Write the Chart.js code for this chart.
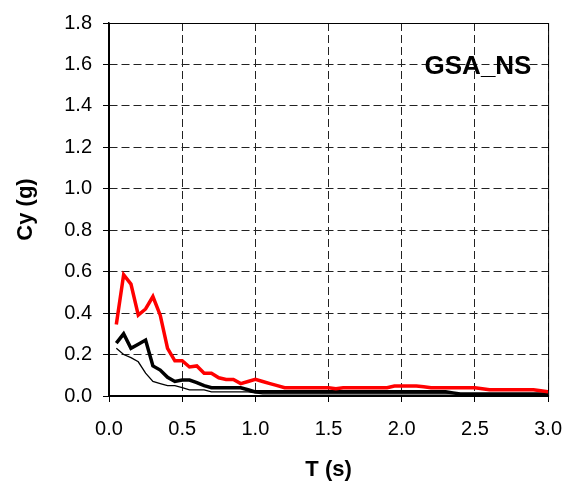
<!DOCTYPE html>
<html>
<head>
<meta charset="utf-8">
<script src="https://cdn.jsdelivr.net/npm/chart.js@4"></script>
<style>
  html, body { margin: 0; padding: 0; background: #fff; }
  #wrap { width: 577px; height: 483px; }
</style>
</head>
<body>
<div id="wrap"><canvas id="grafico" width="577" height="483"></canvas></div>
<script>
// periodos T (s)
const periodos = [
  0.05, 0.10, 0.15, 0.20, 0.25, 0.30, 0.35, 0.40, 0.45, 0.50,
  0.55, 0.60, 0.65, 0.70, 0.75, 0.80, 0.85, 0.90, 0.95, 1.00,
  1.05, 1.10, 1.15, 1.20, 1.25, 1.30, 1.35, 1.40, 1.45, 1.50,
  1.55, 1.60, 1.65, 1.70, 1.75, 1.80, 1.85, 1.90, 1.95, 2.00,
  2.05, 2.10, 2.15, 2.20, 2.25, 2.30, 2.35, 2.40, 2.45, 2.50,
  2.55, 2.60, 2.65, 2.70, 2.75, 2.80, 2.85, 2.90, 2.95, 3.00
];

// Cy (g) - curva roja
const cyRojo = [
  0.345, 0.585, 0.54, 0.39, 0.42, 0.48, 0.39, 0.23, 0.17, 0.17,
  0.14, 0.145, 0.11, 0.11, 0.088, 0.08, 0.08, 0.06, 0.07, 0.08,
  0.07, 0.06, 0.05, 0.04, 0.04, 0.04, 0.04, 0.04, 0.04, 0.04,
  0.035, 0.04, 0.04, 0.04, 0.04, 0.04, 0.04, 0.04, 0.048, 0.048,
  0.048, 0.048, 0.045, 0.04, 0.04, 0.04, 0.04, 0.04, 0.04, 0.04,
  0.035, 0.03, 0.03, 0.03, 0.03, 0.03, 0.03, 0.03, 0.025, 0.02
];

// Cy (g) - curva negra gruesa
const cyNegroGrueso = [
  0.255, 0.30, 0.23, 0.25, 0.27, 0.145, 0.125, 0.09, 0.07, 0.077,
  0.077, 0.065, 0.05, 0.04, 0.04, 0.04, 0.04, 0.04, 0.03, 0.02,
  0.02, 0.02, 0.02, 0.02, 0.02, 0.02, 0.02, 0.02, 0.02, 0.02,
  0.02, 0.02, 0.02, 0.02, 0.02, 0.02, 0.02, 0.02, 0.02, 0.02,
  0.02, 0.02, 0.02, 0.02, 0.02, 0.02, 0.015, 0.01, 0.01, 0.01,
  0.01, 0.01, 0.01, 0.01, 0.01, 0.01, 0.01, 0.01, 0.01, 0.01
];

// Cy (g) - curva negra delgada
const cyNegroDelgado = [
  0.23, 0.20, 0.185, 0.165, 0.11, 0.07, 0.06, 0.05, 0.05, 0.04,
  0.03, 0.03, 0.03, 0.02, 0.02, 0.02, 0.02, 0.02, 0.02, 0.015,
  0.01, 0.01, 0.01, 0.01, 0.01, 0.01, 0.01, 0.01, 0.01, 0.01,
  0.01, 0.01, 0.01, 0.01, 0.01, 0.01, 0.01, 0.01, 0.01, 0.01,
  0.01, 0.01, 0.01, 0.01, 0.01, 0.01, 0.01, 0.01, 0.01, 0.01,
  0.01, 0.01, 0.01, 0.01, 0.01, 0.01, 0.01, 0.01, 0.01, 0.01
];

const ticksX = [0, 0.5, 1.0, 1.5, 2.0, 2.5, 3.0];
const etiquetasX = ["0.0", "0.5", "1.0", "1.5", "2.0", "2.5", "3.0"];
const ticksY = [0, 0.2, 0.4, 0.6, 0.8, 1.0, 1.2, 1.4, 1.6, 1.8];
const etiquetasY = ["0.0", "0.2", "0.4", "0.6", "0.8", "1.0", "1.2", "1.4", "1.6", "1.8"];

const tituloGrafico = "GSA_NS";
const fuente = "'Liberation Sans', Arial, sans-serif";

function puntos(valores){
    return periodos.map(function(t, i){
        return { x: t, y: valores[i] };
    });
}

const marcoYTitulo = {
    id: "marcoYTitulo",
    afterDraw: function(chart){
        const ctx = chart.ctx;
        const area = chart.chartArea;
        ctx.save();
        ctx.strokeStyle = "#000";
        ctx.lineWidth = 1;
        ctx.strokeRect(area.left + 0.5, area.top + 0.5, area.right - area.left, area.bottom - area.top);
        ctx.fillStyle = "#000";
        ctx.font = "bold 26px " + fuente;
        ctx.textAlign = "center";
        ctx.textBaseline = "middle";
        ctx.fillText(tituloGrafico, 478, 67);
        ctx.restore();
    }
};

new Chart(document.getElementById("grafico"), {
    type: "line",
    data: {
        datasets: [
            {
                data: puntos(cyRojo),
                borderColor: "#ff0000",
                borderWidth: 3.5,
                pointRadius: 0,
                tension: 0
            },
            {
                data: puntos(cyNegroGrueso),
                borderColor: "#000000",
                borderWidth: 3.5,
                pointRadius: 0,
                tension: 0
            },
            {
                data: puntos(cyNegroDelgado),
                borderColor: "#000000",
                borderWidth: 1.3,
                pointRadius: 0,
                tension: 0
            }
        ]
    },
    options: {
        responsive: false,
        animation: false,
        layout: {
            padding: { top: 18, right: 25, bottom: 0, left: 0 }
        },
        plugins: {
            legend: { display: false },
            tooltip: { enabled: false }
        },
        scales: {
            x: {
                type: "linear",
                min: 0,
                max: 3,
                afterBuildTicks: function(scale){
                    scale.ticks = ticksX.map(function(v){ return { value: v }; });
                },
                afterFit: function(scale){
                    scale.height = 87;
                },
                ticks: {
                    color: "#000",
                    padding: 15,
                    maxRotation: 0,
                    font: { family: fuente, size: 20 },
                    callback: function(value, index){
                        return etiquetasX[index];
                    }
                },
                grid: {
                    color: "#222",
                    lineWidth: 1,
                    tickLength: 6,
                    tickColor: "#000"
                },
                border: {
                    display: true,
                    color: "#000",
                    width: 1.5,
                    dash: [8, 4]
                },
                title: {
                    display: true,
                    text: "T (s)",
                    color: "#000",
                    padding: { top: 0, bottom: 0 },
                    font: { family: fuente, size: 22, weight: "bold" }
                }
            },
            y: {
                min: 0,
                max: 1.8,
                afterBuildTicks: function(scale){
                    scale.ticks = ticksY.map(function(v){ return { value: v }; });
                },
                afterFit: function(scale){
                    scale.width = 109;
                },
                ticks: {
                    color: "#000",
                    padding: 11,
                    font: { family: fuente, size: 20 },
                    callback: function(value, index){
                        return etiquetasY[index];
                    }
                },
                grid: {
                    color: "#222",
                    lineWidth: 1,
                    tickLength: 6,
                    tickColor: "#000"
                },
                border: {
                    display: true,
                    color: "#000",
                    width: 1.5,
                    dash: [8, 4]
                },
                title: {
                    display: true,
                    text: "Cy (g)",
                    color: "#000",
                    padding: { top: 13, bottom: 0 },
                    font: { family: fuente, size: 22, weight: "bold" }
                }
            }
        }
    },
    plugins: [marcoYTitulo]
});
</script>
</body>
</html>
